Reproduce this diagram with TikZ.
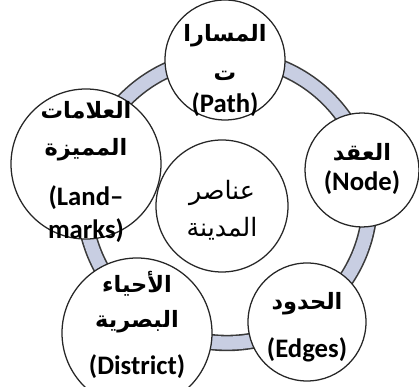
\documentclass[tikz,border=0pt]{standalone}
\usepackage{fontspec}
\setmainfont{Carlito}
\newfontfamily\arabicfont[Script=Arabic]{DejaVu Sans}
\TeXXeTstate=1
\definecolor{ringblue}{HTML}{C8CEE2}
\definecolor{ringedge}{HTML}{3A3A3A}
\newcommand{\artxt}[1]{{\arabicfont\fontsize{16}{25}\selectfont\beginR #1\endR}}
\tikzset{
  elem/.style={draw=black!85, circle, fill=white, line width=0.9pt, inner sep=0pt},
  bigelem/.style={elem, minimum size=3.75cm},
  lbl/.style={align=center, inner sep=0pt, font=\fontsize{19}{25}\selectfont\bfseries},
  corelbl/.style={lbl, font=\fontsize{18}{25}\selectfont},
}

\begin{document}
\begin{tikzpicture}
\useasboundingbox (0,0) rectangle (10.475,9.675);

% ring linking the five elements
\coordinate (ctr) at (5.675,4.675);
\draw[ringedge, line width=0.41cm] (ctr) circle (3.575);
\draw[ringblue, line width=0.33cm] (ctr) circle (3.575);

% elements on the ring
\node[elem, minimum size=3.0cm] (path) at (5.625,8.175) {};
\node[elem, minimum size=2.85cm] (node) at (9.05,5.425) {};
\node[elem, minimum size=2.95cm] (edges) at (7.675,1.625) {};
\node[bigelem] (district) at (3.425,1.35) {};
\node[bigelem] (landmarks) at (2.15,5.575) {};
\node[elem, minimum size=3.3cm] (city) at (5.55,4.525) {};

% texts
\node[lbl] (path-txt) at ([yshift=-0.26cm]path.center)
  {\artxt{المسارا}\\[3pt] \artxt{ت}\\[-2pt] (Path)};
\node[lbl] (node-txt) at ([yshift=0.02cm]node.center)
  {\artxt{العقد}\\[-4pt] (Node)};
\node[lbl] (edges-txt) at ([yshift=-0.13cm]edges.center)
  {\artxt{الحدود}\\[9pt] (Edges)};
\node[lbl] (district-txt) at ([yshift=0.2cm]district.center)
  {\artxt{الأحياء}\\ \artxt{البصرية}\\[8pt] (District)};
\node[lbl] (landmarks-txt) at ([yshift=-0.2cm]landmarks.center)
  {\artxt{العلامات}\\[1pt] \artxt{المميزة}\\[11pt] (Land–\\[-2pt] marks)};
\node[corelbl] (city-txt) at ([yshift=-0.1cm]city.center)
  {{\arabicfont\beginR عناصر\endR}\\[1pt] {\arabicfont\beginR المدينة\endR}};

\end{tikzpicture}
\end{document}
